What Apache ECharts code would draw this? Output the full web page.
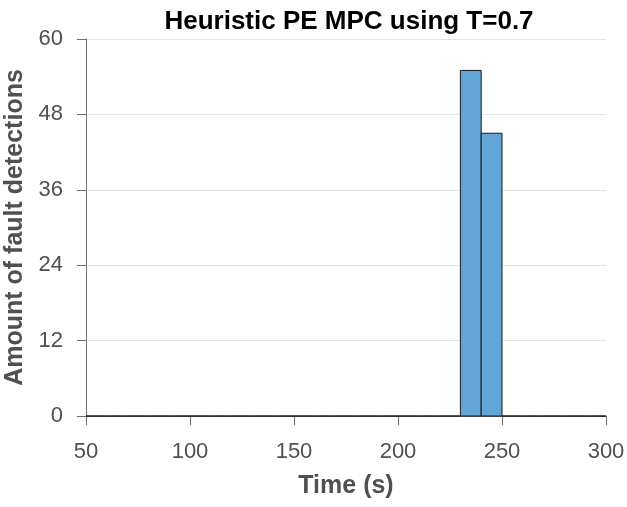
<!DOCTYPE html>
<html><head><meta charset="utf-8">
<script src="https://cdn.jsdelivr.net/npm/echarts@6/dist/echarts.min.js"></script>
<style>html,body{margin:0;padding:0;background:#fff}#c{width:627px;height:507px}</style>
</head><body><div id="c"></div>
<script>
const binStart = [50,60,70,80,90,100,110,120,130,140,150,160,170,180,190,200,210,220,230,240,250,260,270,280,290];
const binWidth = 10;
const counts = [0,0,0,0,0,0,0,0,0,0,0,0,0,0,0,0,0,0,55,45,0,0,0,0,0];
const xTicks = [50,100,150,200,250,300];
const yTicks = [0,12,24,36,48,60];

const data = binStart.map((s,i)=>[s, s+binWidth, counts[i]]);
const chart = echarts.init(document.getElementById('c'));
const font = 'Helvetica, Arial, "Liberation Sans", sans-serif';
chart.setOption({
  animation:false,
  title:{text:'Heuristic PE MPC using T=0.7',left:344,textAlign:'center',top:4,
    textStyle:{fontFamily:font,fontSize:26,fontWeight:'bold',color:'#000'}},
  grid:{left:86,right:21,top:39,bottom:91,containLabel:false,outerBoundsMode:'none'},
  xAxis:{type:'value',min:xTicks[0],max:xTicks[xTicks.length-1],interval:50,
    name:'Time (s)',nameLocation:'middle',nameGap:58,
    nameTextStyle:{fontFamily:font,fontSize:25,fontWeight:'bold',color:'#505050'},
    axisLine:{show:true,lineStyle:{color:'#707070',width:1}},
    axisTick:{show:true,length:9,lineStyle:{color:'#707070'}},
    axisLabel:{fontFamily:font,fontSize:22,color:'#505050',margin:25},
    splitLine:{show:false}},
  yAxis:{type:'value',min:yTicks[0],max:yTicks[yTicks.length-1],interval:12,
    name:'Amount of fault detections',nameLocation:'middle',nameGap:53,
    nameTextStyle:{fontFamily:font,fontSize:25,fontWeight:'bold',color:'#505050'},
    axisLine:{show:true,lineStyle:{color:'#707070',width:1}},
    axisTick:{show:true,length:9,lineStyle:{color:'#707070'}},
    axisLabel:{fontFamily:font,fontSize:22,color:'#505050',margin:23},
    splitLine:{show:true,lineStyle:{color:'#e6e6e6',width:1}}},
  series:[{
    type:'custom',
    data:data,
    encode:{x:[0,1],y:2},
    renderItem:function(params,api){
      const p0=api.coord([api.value(0),0]);
      const p1=api.coord([api.value(1),api.value(2)]);
      return {type:'rect',
        shape:{x:p0[0],y:p1[1],width:p1[0]-p0[0],height:p0[1]-p1[1]},
        style:{fill:'#62a6d8',stroke:'#1a1a1a',lineWidth:1}};
    }
  }]
});
</script></body></html>
